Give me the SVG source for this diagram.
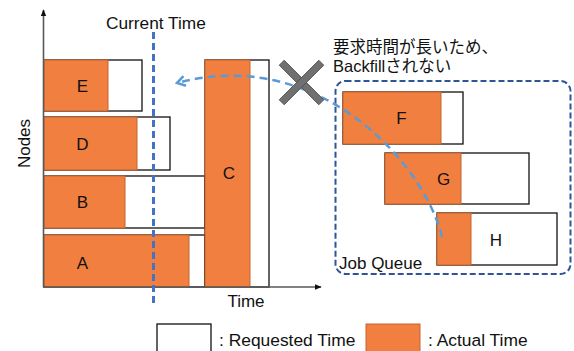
<svg xmlns="http://www.w3.org/2000/svg" width="574" height="351" viewBox="0 0 574 351">
<style>
text{font-family:"Liberation Sans","Noto Sans CJK JP",Arial,sans-serif;fill:#111}
.lbl{font-size:17px;text-anchor:middle}
.t17{font-size:17px}
.req{fill:#fff;stroke:#111;stroke-width:1.3}
.act{fill:#F17F3F;stroke:#C5652E;stroke-width:1}
.axis{stroke:#595959;stroke-width:1.6;fill:none}
</style>
<defs>
<marker id="axh" viewBox="0 0 10 10" refX="9" refY="5" markerWidth="7" markerHeight="7" markerUnits="userSpaceOnUse" orient="auto">
<path d="M0,1 L10,5 L0,9 Z" fill="#111"/>
</marker>
<marker id="oah" viewBox="0 0 12 12" refX="10" refY="6" markerWidth="12" markerHeight="12" markerUnits="userSpaceOnUse" orient="auto">
<path d="M2,1 L10,6 L2,11" fill="none" stroke="#5B9BD5" stroke-width="2.5"/>
</marker>
</defs>

<g id="job-E">
<rect class="req" x="44" y="60" width="98" height="51"/>
<rect class="act" x="44" y="60" width="64" height="51"/>
<text class="lbl" x="82.5" y="92">E</text>
</g>
<g id="job-D">
<rect class="req" x="44" y="117" width="126" height="53"/>
<rect class="act" x="44" y="117" width="93" height="53"/>
<text class="lbl" x="82.5" y="149.5">D</text>
</g>
<g id="job-B">
<rect class="req" x="44" y="176" width="161" height="52"/>
<rect class="act" x="44" y="176" width="81" height="52"/>
<text class="lbl" x="82.5" y="208">B</text>
</g>
<g id="job-A">
<rect class="req" x="44" y="235" width="161" height="52"/>
<rect class="act" x="44" y="235" width="145" height="52"/>
<text class="lbl" x="82.5" y="269">A</text>
</g>
<g id="job-C">
<rect class="req" x="205" y="60" width="64" height="227"/>
<rect class="act" x="205" y="60" width="45" height="227"/>
<text class="lbl" x="229" y="179">C</text>
</g>

<g id="axes">
<line class="axis" x1="43.5" y1="287" x2="43.5" y2="10" marker-end="url(#axh)"/>
<line class="axis" x1="43" y1="287" x2="321" y2="287" marker-end="url(#axh)"/>
<text class="t17" x="246" y="307" text-anchor="middle">Time</text>
<text class="t17" transform="translate(30,143.5) rotate(-90)" text-anchor="middle">Nodes</text>
</g>

<g id="current-time">
<line x1="153.5" y1="32" x2="153.5" y2="307" stroke="#4472C4" stroke-width="3" stroke-dasharray="7 4"/>
<text x="106" y="28.5" style="font-size:17.3px">Current Time</text>
</g>

<g id="job-queue">
<rect x="335.5" y="81" width="235" height="193" rx="10" fill="none" stroke="#2F5597" stroke-width="2" stroke-dasharray="6 3"/>
<text class="t17" x="339" y="269">Job Queue</text>
</g>
<g id="job-F">
<rect class="req" x="343" y="92" width="120" height="52"/>
<rect class="act" x="343" y="92" width="98" height="52"/>
<text class="lbl" x="401.5" y="124">F</text>
</g>
<g id="job-G">
<rect class="req" x="385" y="153" width="144" height="51"/>
<rect class="act" x="385" y="153" width="76" height="51"/>
<text class="lbl" x="443.5" y="185">G</text>
</g>
<g id="job-H">
<rect class="req" x="437" y="213" width="120" height="52"/>
<rect class="act" x="437" y="213" width="34" height="52"/>
<text class="lbl" x="496" y="245.5">H</text>
</g>

<g id="connectors">
<path d="M442,237 C425,165 320,45 177,83" fill="none" stroke="#5B9BD5" stroke-width="2.5" stroke-dasharray="8 5" marker-end="url(#oah)"/>
</g>

<g id="reject-mark">
<rect x="273.5" y="79" width="56" height="7" fill="#707070" stroke="#4a4a4a" stroke-width="0.8" transform="rotate(45 301.5 82.5)"/>
<rect x="273.5" y="79" width="56" height="7" fill="#707070" stroke="#4a4a4a" stroke-width="0.8" transform="rotate(-45 301.5 82.5)"/>
<text x="333" y="52.5" style="font-size:16.5px">要求時間が長いため、</text>
<text x="333" y="71.5" style="font-size:16.5px">Backfillされない</text>
</g>

<g id="legend">
<rect class="req" x="157" y="324" width="54" height="32"/>
<text x="219" y="346" style="font-size:17.4px">: Requested Time</text>
<rect class="act" x="366" y="324" width="54" height="32"/>
<text x="428" y="346" style="font-size:17.4px">: Actual Time</text>
</g>
</svg>
